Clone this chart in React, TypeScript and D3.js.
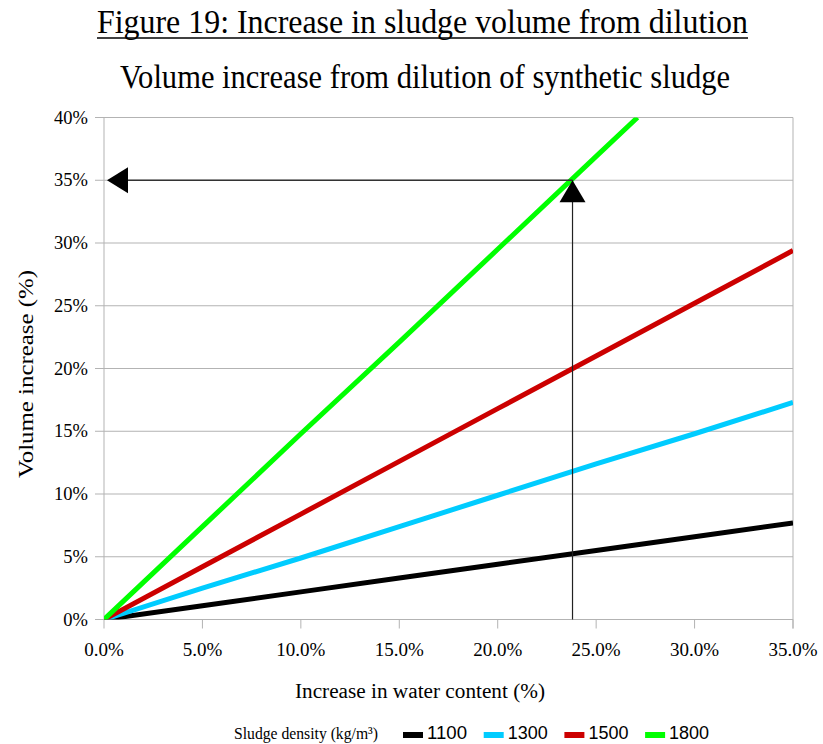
import { useEffect } from "react"
import * as d3 from "d3"

// water content increase (%) and volume increase (%) per sludge density
const waterIncrease = [0, 5, 10, 15, 20, 25, 30, 35]
const vol1100 = [0, 1.1, 2.2, 3.3, 4.4, 5.5, 6.6, 7.7]
const vol1300 = [0, 2.5, 4.9, 7.4, 9.9, 12.4, 14.8, 17.3]
const vol1500 = [0, 4.2, 8.4, 12.6, 16.8, 21.0, 25.2, 29.4]
// 1800 leaves the plot at the 40% top edge
const water1800 = [0, 5, 10, 15, 20, 25, 27.1]
const vol1800 = [0, 7.4, 14.8, 22.1, 29.5, 36.9, 40]

const densities = ["1100", "1300", "1500", "1800"]
const colors = ["#000000", "#00ccff", "#cc0000", "#00ff00"]

const xTicks = [0, 5, 10, 15, 20, 25, 30, 35]
const yTicks = [0, 5, 10, 15, 20, 25, 30, 35, 40]

// reading example: 23.8% more water -> 35% more volume at 1800 kg/m3
const guide = { x: 23.8, y: 35 }

const W = 823
const H = 744
const serif = "'Liberation Serif', 'Times New Roman', serif"
const sans = "'Liberation Sans', Arial, sans-serif"
const grid = "#b3b3b3"

export default function App() {
  useEffect(() => {
    document.body.style.margin = "0"
  }, [])

  const x = d3.scaleLinear().domain([0, 35]).range([104, 793])
  const y = d3.scaleLinear().domain([0, 40]).range([619.5, 117.5])

  const line = d3
    .line<[number, number]>()
    .x((d) => x(d[0]))
    .y((d) => y(d[1]))

  const series = [
    waterIncrease.map((w, i) => [w, vol1100[i]] as [number, number]),
    waterIncrease.map((w, i) => [w, vol1300[i]] as [number, number]),
    waterIncrease.map((w, i) => [w, vol1500[i]] as [number, number]),
    water1800.map((w, i) => [w, vol1800[i]] as [number, number]),
  ]

  const gx = x(guide.x)
  const gy = y(guide.y)

  return (
    <svg width={W} height={H} style={{ display: "block", background: "#fff" }}>
      <defs>
        <clipPath id="plot">
          <rect x={x(0)} y={y(40)} width={x(35) - x(0)} height={y(0) - y(40)} />
        </clipPath>
      </defs>

      {/* titles */}
      <text x={97} y={33} fontFamily={serif} fontSize={33} textLength={651} lengthAdjust="spacingAndGlyphs">
        Figure 19: Increase in sludge volume from dilution
      </text>
      <line x1={97} x2={748} y1={38} y2={38} stroke="#000" strokeWidth={1.5} />
      <text x={120} y={88} fontFamily={serif} fontSize={33} textLength={610} lengthAdjust="spacingAndGlyphs">
        Volume increase from dilution of synthetic sludge
      </text>

      {/* grid */}
      {yTicks.map((t) => (
        <g key={"y" + t}>
          <line x1={x(0) - 9} x2={x(35)} y1={y(t)} y2={y(t)} stroke={grid} strokeWidth={1} />
          <text x={88} y={y(t) + 6} textAnchor="end" fontFamily={serif} fontSize={18.5}>
            {t}%
          </text>
        </g>
      ))}
      <line x1={x(0)} x2={x(0)} y1={y(40)} y2={y(0)} stroke={grid} />
      <line x1={x(35)} x2={x(35)} y1={y(40)} y2={y(0) + 9} stroke={grid} />
      {xTicks.map((t) => (
        <g key={"x" + t}>
          <line x1={x(t)} x2={x(t)} y1={y(0)} y2={y(0) + 9} stroke={grid} />
          <text x={x(t)} y={656} textAnchor="middle" fontFamily={serif} fontSize={19}>
            {t.toFixed(1)}%
          </text>
        </g>
      ))}

      {/* series */}
      <g clipPath="url(#plot)">
        {series.map((s, i) => (
          <path key={densities[i]} d={line(s) ?? ""} fill="none" stroke={colors[i]} strokeWidth={5} />
        ))}
      </g>

      {/* guide arrows */}
      <line x1={gx} x2={gx} y1={y(0)} y2={gy} stroke="#222" strokeWidth={1.2} />
      <line x1={x(0) + 10} x2={gx} y1={gy} y2={gy} stroke="#333" strokeWidth={1.5} />
      <path d={`M${gx},${gy} L${gx - 13},${gy + 22} L${gx + 13},${gy + 22} Z`} fill="#000" />
      <path d={`M${x(0) + 3},${gy} L${x(0) + 24},${gy - 13} L${x(0) + 24},${gy + 13} Z`} fill="#000" />

      {/* axis titles */}
      <text x={420} y={698} textAnchor="middle" fontFamily={serif} fontSize={20} textLength={250} lengthAdjust="spacingAndGlyphs">
        Increase in water content (%)
      </text>
      <text
        transform={`translate(33,374) rotate(-90)`}
        textAnchor="middle"
        fontFamily={serif}
        fontSize={20}
        textLength={208}
        lengthAdjust="spacingAndGlyphs"
      >
        Volume increase (%)
      </text>

      {/* legend */}
      <text x={234} y={739} fontFamily={serif} fontSize={17} textLength={144} lengthAdjust="spacingAndGlyphs">
        Sludge density (kg/m³)
      </text>
      {densities.map((d, i) => {
        const lx = 403 + i * 80.7
        return (
          <g key={"leg" + d}>
            <rect x={lx} y={732} width={20} height={6} fill={colors[i]} />
            <text x={lx + 24} y={739} fontFamily={sans} fontSize={18} textLength={40} lengthAdjust="spacingAndGlyphs">
              {d}
            </text>
          </g>
        )
      })}
    </svg>
  )
}
